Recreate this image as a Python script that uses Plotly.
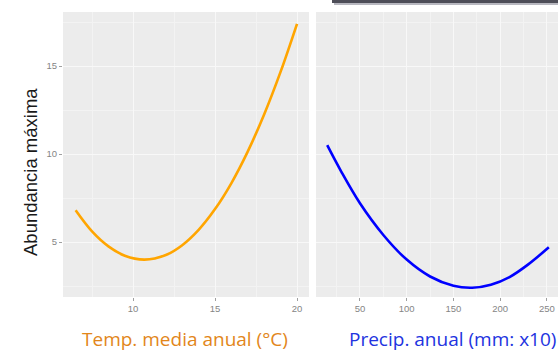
import plotly.graph_objects as go
from plotly.subplots import make_subplots

# Fitted maximum abundance along the temperature gradient
temp_c = [6.5, 7.5, 8.5, 9.5, 10.7, 12, 13, 14, 15, 16, 17, 18, 19, 20]
abund_temp = [6.8, 5.6, 4.75, 4.22, 4.0, 4.26, 4.82, 5.69, 6.87, 8.35, 10.15, 12.26, 14.68, 17.4]

# Fitted maximum abundance along the precipitation gradient
precip_mm10 = [15, 30, 50, 75, 100, 125, 150, 170, 190, 210, 230, 252]
abund_precip = [10.5, 9.0, 7.2, 5.4, 4.0, 3.04, 2.51, 2.4, 2.57, 3.01, 3.73, 4.7]

y_ticks = [5, 10, 15]
temp_ticks = [10, 15, 20]
precip_ticks = [50, 100, 150, 200, 250]

W, H = 558, 353

fig = make_subplots(rows=1, cols=2, shared_yaxes=True)

fig.add_trace(go.Scatter(x=temp_c, y=abund_temp, mode="lines",
                         line=dict(color="#FFA500", width=2.6, shape="spline"),
                         showlegend=False), row=1, col=1)
fig.add_trace(go.Scatter(x=precip_mm10, y=abund_precip, mode="lines",
                         line=dict(color="#0000FF", width=2.6, shape="spline"),
                         showlegend=False), row=1, col=2)

tick_font = dict(family="Liberation Sans, Arial", size=9.5, color="#858585")
common_axis = dict(showline=False, zeroline=False, ticks="outside", ticklen=3,
                   tickcolor="#a0a0a0", tickwidth=1, tickfont=tick_font,
                   showgrid=True, gridcolor="#F8F8F8", gridwidth=1.1)

y_dom = [(H - 297) / H, (H - 12) / H]

fig.update_xaxes(common_axis, domain=[63 / W, 309 / W], range=[5.73, 20.73],
                 tickvals=temp_ticks,
                 minor=dict(tickvals=[7.5, 12.5, 17.5], showgrid=True,
                            gridcolor="#F3F3F3", gridwidth=0.5, ticks=""),
                 row=1, col=1)
fig.update_xaxes(common_axis, domain=[316 / W, 1.0], range=[3, 261.8],
                 tickvals=precip_ticks,
                 minor=dict(tickvals=[25, 75, 125, 175, 225], showgrid=True,
                            gridcolor="#F3F3F3", gridwidth=0.5, ticks=""),
                 row=1, col=2)
fig.update_yaxes(common_axis, domain=y_dom, range=[1.875, 18.07],
                 tickvals=y_ticks,
                 minor=dict(tickvals=[2.5, 7.5, 12.5, 17.5], showgrid=True,
                            gridcolor="#F3F3F3", gridwidth=0.5, ticks=""))
fig.update_yaxes(showticklabels=False, ticks="", row=1, col=2)

fig.add_annotation(text="Abundancia máxima", xref="paper", yref="paper",
                   x=30 / W, y=(H - 172) / H, textangle=-90, showarrow=False,
                   font=dict(family="Liberation Sans, Arial", size=18.5, color="#1a1a1a"),
                   xanchor="center", yanchor="middle")
fig.add_annotation(text="Temp. media anual (°C)", xref="paper", yref="paper",
                   x=185 / W, y=(H - 339) / H, showarrow=False,
                   font=dict(family="Open Sans", size=19, color="#E2861A"),
                   xanchor="center", yanchor="middle")
fig.add_annotation(text="Precip. anual (mm: x10)", xref="paper", yref="paper",
                   x=347 / W, y=(H - 339) / H, showarrow=False,
                   font=dict(family="Open Sans", size=19, color="#2233E0"),
                   xanchor="left", yanchor="middle")

# Dark header bar with a soft shadow across the top right
fig.add_shape(type="rect", xref="paper", yref="paper",
              x0=334 / W, x1=1.0, y0=(H - 5) / H, y1=(H - 2.5) / H,
              line=dict(width=0), fillcolor="#B8B8C0", layer="above")
fig.add_shape(type="rect", xref="paper", yref="paper",
              x0=332 / W, x1=1.0, y0=(H - 3) / H, y1=1.0,
              line=dict(width=0), fillcolor="#4E4E58", layer="above")

fig.update_layout(width=W, height=H, margin=dict(l=0, r=0, t=0, b=0),
                  paper_bgcolor="#FFFFFF", plot_bgcolor="#ECECEC")

fig.write_html("out.html")
